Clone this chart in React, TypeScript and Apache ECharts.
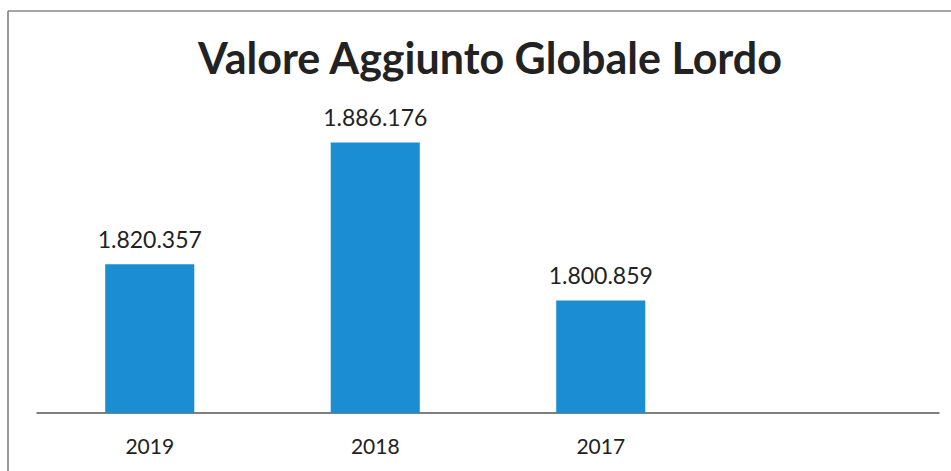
import React, { useEffect, useRef } from "react";
import * as echarts from "echarts";

const categories = ["2019", "2018", "2017", ""];
const values: (number | null)[] = [1820357, 1886176, 1800859, null];
const titleText = "Valore Aggiunto Globale Lordo";

const fmt = (v: number) => String(Math.round(v)).replace(/\B(?=(\d{3})+(?!\d))/g, ".");

export default function App() {
  const ref = useRef<HTMLDivElement>(null);
  useEffect(() => {
    document.body.style.margin = "0";
    const chart = echarts.init(ref.current!, null, { renderer: "svg" });
    chart.setOption({
      animation: false,
      backgroundColor: "#ffffff",
      title: {
        text: titleText,
        left: 485,
        textAlign: "center",
        top: 31,
        textStyle: { fontFamily: "Lato", fontWeight: "bold", fontSize: 43, color: "#222222" },
      },
      grid: { left: 37, right: 12, top: 117, bottom: 58 },
      xAxis: {
        type: "category",
        data: categories,
        axisTick: { show: false },
        axisLine: { lineStyle: { color: "#555555", width: 1.5 } },
        axisLabel: { fontFamily: "Lato", fontSize: 21, color: "#222222", margin: 22 },
      },
      yAxis: {
        type: "value",
        min: 1740000,
        max: 1900000,
        show: false,
        splitLine: { show: false },
      },
      series: [
        {
          type: "bar",
          data: values,
          barWidth: "39.5%",
          itemStyle: { color: "#1b8dd3" },
          label: {
            show: true,
            position: "top",
            distance: 14,
            fontFamily: "Lato",
            fontSize: 23,
            color: "#222222",
            formatter: (p: any) => fmt(p.value),
          },
        },
      ],
      graphic: [
        { type: "line", shape: { x1: 8, y1: 11, x2: 951, y2: 11 }, style: { stroke: "#888888", lineWidth: 1.5 } },
        { type: "line", shape: { x1: 8, y1: 11, x2: 8, y2: 471 }, style: { stroke: "#777777", lineWidth: 1.5 } },
      ],
    });
    return () => chart.dispose();
  }, []);
  return <div ref={ref} style={{ width: 951, height: 471 }} />;
}
